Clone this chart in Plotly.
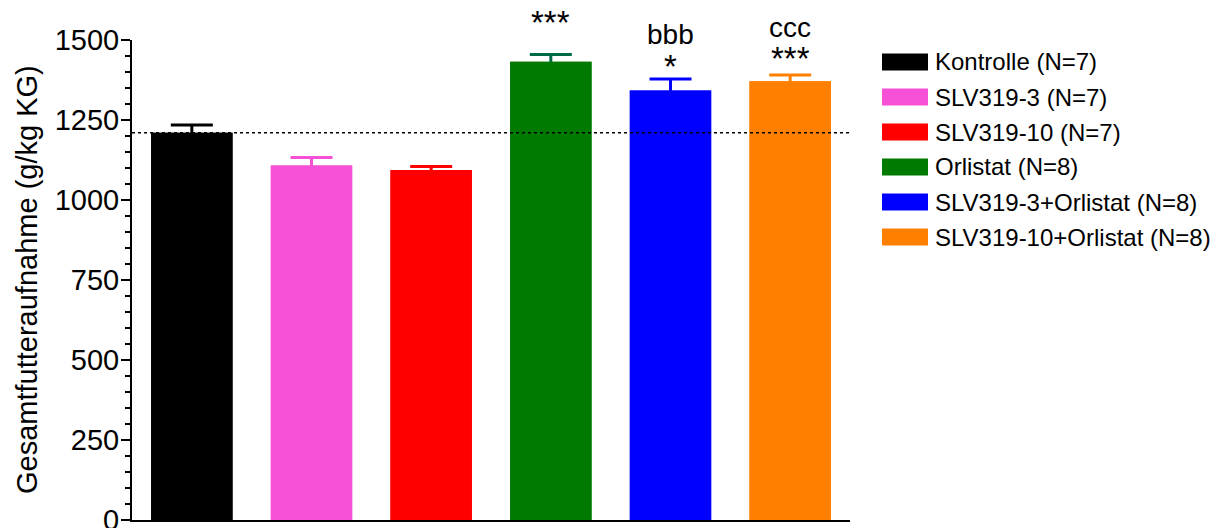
import plotly.graph_objects as go

# ---- data ----
groups = ["Kontrolle (N=7)", "SLV319-3 (N=7)", "SLV319-10 (N=7)", "Orlistat (N=8)",
          "SLV319-3+Orlistat (N=8)", "SLV319-10+Orlistat (N=8)"]
means = [1210, 1108, 1094, 1432, 1342, 1371]
sem = [24, 25, 11, 23, 36, 20]
bar_colors = ["#000000", "#F550D6", "#FF0000", "#007A00", "#0000FF", "#FF8000"]
err_colors = ["#000000", "#F550D6", "#FF0000", "#006A48", "#0000FF", "#FF8000"]
sig_top = ["", "", "", "", "bbb", "ccc"]
sig_low = ["", "", "", "***", "*", "***"]
y_ticks = [0, 250, 500, 750, 1000, 1250, 1500]

# ---- layout (page has an 8px body margin, so the figure is offset) ----
OFF = 8
W, H = 1232 - OFF, 528 - OFF
ML, MT = 132 - OFF, 40 - OFF
PW, PH = 718, 480
MR, MB = W - ML - PW, H - MT - PH
FONT = "Liberation Sans, Arial, sans-serif"

# pixel offsets of significance labels above the error-bar tops
low_shift = [0, 0, 0, 11, -8, -4]
top_shift = [0, 0, 0, 0, 27, 30]

fig = go.Figure()
# bars with (symmetric) SEM bars; lower half is then hidden by an identical bar on top
for i, (g, m, e) in enumerate(zip(groups, means, sem)):
    fig.add_trace(go.Bar(
        x=[i], y=[m], width=0.68, name=g,
        marker=dict(color=bar_colors[i], line=dict(width=0)),
        error_y=dict(type="data", array=[e], color=err_colors[i], thickness=3, width=21),
        showlegend=False, hoverinfo="skip",
    ))
for i, (g, m) in enumerate(zip(groups, means)):
    fig.add_trace(go.Bar(
        x=[i], y=[m], width=0.68, name=g,
        marker=dict(color=bar_colors[i], line=dict(width=0)),
        showlegend=False,
    ))

# reference line at control mean
fig.add_shape(type="line", xref="paper", yref="y", x0=0, x1=1,
              y0=means[0], y1=means[0],
              line=dict(color="black", width=1.5, dash="3px,3px"))

annotations = []
for i in range(len(groups)):
    top = means[i] + sem[i]
    if sig_low[i]:
        annotations.append(dict(x=i, y=top, xref="x", yref="y", text=sig_low[i],
                                showarrow=False, yanchor="bottom", yshift=low_shift[i],
                                font=dict(family=FONT, size=33, color="black")))
    if sig_top[i]:
        annotations.append(dict(x=i, y=top, xref="x", yref="y", text=sig_top[i],
                                showarrow=False, yanchor="bottom", yshift=top_shift[i],
                                font=dict(family=FONT, size=28, color="black")))

# y-axis title
annotations.append(dict(x=(27 - OFF - ML) / PW, y=0.5, xref="paper", yref="paper",
                        text="Gesamtfutteraufnahme (g/kg KG)", textangle=-90,
                        showarrow=False, xanchor="center", yanchor="middle",
                        font=dict(family=FONT, size=29, color="black")))

# custom legend (page pixel layout converted to paper coordinates)
def px_x(px):
    return (px - OFF - ML) / PW

def px_y(py):
    return (MT + PH - (py - OFF)) / PH

row0, step = 62, 35
for i, g in enumerate(groups):
    cy = row0 + i * step
    fig.add_shape(type="rect", xref="paper", yref="paper",
                  x0=px_x(882), x1=px_x(928), y0=px_y(cy + 8.5), y1=px_y(cy - 8.5),
                  fillcolor=bar_colors[i], line=dict(width=0))
    annotations.append(dict(x=px_x(933), y=px_y(cy), xref="paper", yref="paper",
                            text=g, showarrow=False, xanchor="left", yanchor="middle",
                            font=dict(family=FONT, size=24, color="black")))

fig.update_layout(
    width=W, height=H,
    margin=dict(l=ML, r=MR, t=MT, b=MB, autoexpand=False),
    paper_bgcolor="white", plot_bgcolor="white",
    barmode="overlay",
    annotations=annotations,
    xaxis=dict(range=[-0.5, 5.5], showticklabels=False, ticks="", showgrid=False,
               zeroline=False, showline=True, linecolor="black", linewidth=2),
    yaxis=dict(range=[0, 1500], tickvals=y_ticks, ticks="outside", ticklen=9,
               tickwidth=2, tickcolor="black", showline=True, linecolor="black",
               linewidth=2, showgrid=False, zeroline=False, ticklabelstandoff=-4,
               ticklabeloverflow="allow",
               tickfont=dict(family=FONT, size=29, color="black"),
               minor=dict(dtick=50, ticks="outside", ticklen=5, tickwidth=1.5,
                          tickcolor="black", showgrid=False)),
)

fig.write_html("out.html")
